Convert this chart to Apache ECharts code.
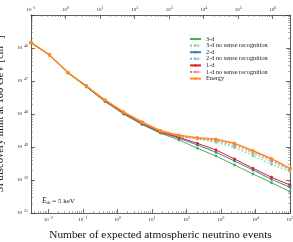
<!DOCTYPE html>
<html><head><meta charset="utf-8">
<script src="https://cdn.jsdelivr.net/npm/echarts@6/dist/echarts.min.js"></script>
<style>html,body{margin:0;padding:0;background:#fff}#c{width:293px;height:242px}</style>
</head><body><div id="c"></div>
<script>
// x: number of expected atmospheric neutrino events
const events = [3.16e-3, 1.09e-2, 3.73e-2, 0.128, 0.439, 1.51, 5.18, 17.8, 61.1, 209, 720, 2470, 8480, 29100, 1e5];
// y: SI discovery limit at 100 GeV [cm^-2]
const d3 = [1.45e-46, 6.14e-47, 1.75e-47, 6.58e-48, 2.39e-48, 1.0e-48, 4.81e-49, 2.60e-49, 1.63e-49, 9.14e-50, 5.34e-50, 2.85e-50, 1.52e-50, 8.28e-51, 4.42e-51];
const d3ns = [1.45e-46, 6.14e-47, 1.79e-47, 6.81e-48, 2.48e-48, 1.07e-48, 5.15e-49, 2.75e-49, 2.08e-49, 1.75e-49, 1.39e-49, 9.53e-50, 5.45e-50, 2.99e-50, 1.79e-50];
const d2 = [1.45e-46, 6.14e-47, 1.79e-47, 6.81e-48, 2.48e-48, 1.04e-48, 4.98e-49, 2.75e-49, 1.84e-49, 1.15e-49, 6.91e-50, 3.77e-50, 2.01e-50, 1.05e-50, 6.01e-51];
const d2ns = [1.45e-46, 6.14e-47, 1.79e-47, 7.05e-48, 2.57e-48, 1.11e-48, 5.34e-49, 2.85e-49, 2.11e-49, 1.81e-49, 1.52e-49, 1.09e-49, 6.44e-50, 3.59e-50, 2.01e-50];
const d1 = [1.45e-46, 6.14e-47, 1.79e-47, 6.81e-48, 2.48e-48, 1.07e-48, 5.15e-49, 2.85e-49, 1.97e-49, 1.29e-49, 8.11e-50, 4.33e-50, 2.26e-50, 1.21e-50, 7.05e-51];
const d1ns = [1.45e-46, 6.14e-47, 1.79e-47, 7.05e-48, 2.57e-48, 1.11e-48, 5.34e-49, 2.95e-49, 2.15e-49, 1.81e-49, 1.63e-49, 1.21e-49, 7.21e-50, 4.04e-50, 2.11e-50];
const energy = [1.45e-46, 6.14e-47, 1.79e-47, 7.05e-48, 2.66e-48, 1.15e-48, 5.73e-49, 3.12e-49, 2.26e-49, 1.91e-49, 1.71e-49, 1.29e-49, 7.73e-50, 4.42e-50, 2.26e-50];
const seriesNames = ['3-d', '3-d no sense recognition', '2-d', '2-d no sense recognition', '1-d', '1-d no sense recognition', 'Energy'];
// tick labels (decades)
const xTicks = [1e-2, 1e-1, 1, 1e1, 1e2, 1e3, 1e4, 1e5];
const massTicks = [1e-1, 1, 1e1, 1e2, 1e3, 1e4, 1e5, 1e6];
const yTicks = [1e-51, 1e-50, 1e-49, 1e-48, 1e-47, 1e-46];
const xRange = [3.1623e-3, 1e5];
const massRange = [0.1, 3162277.66];
const yRange = [1e-51, 1e-45];

// ECharts cannot hold 1e-51 in an axis extent: plot y in units of 1e-51 cm^-2
const Y_UNIT = 1e-51;
const Y_UNIT_EXP = -51;
const ys = v => v / Y_UNIT;

const lg = Math.log10;
function majorsExp(vals) { return vals.map(v => Math.round(lg(v))); }
function minorsExp(lo, hi) {
  const out = [];
  for (let e = Math.floor(lo); e <= Math.ceil(hi); e++) {
    for (let m = 2; m <= 9; m++) {
      const v = e + lg(m);
      if (v > lo + 1e-6 && v < hi - 1e-6) out.push(v);
    }
  }
  return out;
}
const FONT = 'Liberation Serif';
function expFmtOffset(off) {
  return function (v) {
    const e = Math.round(lg(v)) + off;
    return '10{s|' + (e < 0 ? '\u2212' + (-e) : e) + '}';
  };
}
const labRich = { s: { fontSize: 3.8, verticalAlign: 'top', padding: [0, 0, 3, 0], fontFamily: FONT, color: '#222' } };
const axLine = { show: true, onZero: false, lineStyle: { color: '#333', width: 0.8 } };
const noLine = { show: false, onZero: false };
const noSplit = { splitLine: { show: false }, minorTick: { show: false }, minorSplitLine: { show: false } };

function logAxis(opts) {
  return Object.assign({ type: 'log', logBase: 10, axisLine: axLine, axisTick: { show: false } }, noSplit, opts);
}
function tickAxis(pos, lo, hi, vals, len, line) {
  return Object.assign({
    type: 'value', position: pos, min: lo, max: hi,
    axisLine: line ? axLine : noLine,
    axisLabel: { show: false },
    axisTick: { show: true, inside: true, length: len, customValues: vals, lineStyle: { color: len > 3 ? '#333' : '#666', width: len > 3 ? 0.7 : 0.5 } }
  }, noSplit);
}
function label(vals, margin, off) {
  return { show: true, customValues: vals, formatter: expFmtOffset(off), fontSize: 5, fontFamily: FONT, color: '#222', margin: margin, rich: labRich, hideOverlap: false };
}

const xLo = lg(xRange[0]), xHi = lg(xRange[1]);
const mLo = lg(massRange[0]), mHi = lg(massRange[1]);
const yLo = lg(yRange[0]) - Y_UNIT_EXP, yHi = lg(yRange[1]) - Y_UNIT_EXP;

const xAxes = [
  logAxis({ position: 'bottom', min: xRange[0], max: xRange[1], axisLabel: label(xTicks, 3, 0),
    name: 'Number of expected atmospheric neutrino events', nameLocation: 'middle', nameGap: 17,
    nameTextStyle: { fontFamily: FONT, fontSize: 11.3, color: '#111' } }),
  tickAxis('bottom', xLo, xHi, majorsExp(xTicks), 4),
  tickAxis('bottom', xLo, xHi, minorsExp(xLo, xHi), 2),
  logAxis({ position: 'top', min: massRange[0], max: massRange[1], axisLabel: label(massTicks, 2, 0),
    name: 'Detector mass [ton]', nameLocation: 'middle', nameGap: 10,
    nameTextStyle: { fontFamily: FONT, fontSize: 10.8, color: '#111' } }),
  tickAxis('top', mLo, mHi, majorsExp(massTicks), 4),
  tickAxis('top', mLo, mHi, minorsExp(mLo, mHi), 2)
];
const yTicksU = yTicks.map(ys);
const yAxes = [
  logAxis({ position: 'left', min: ys(yRange[0]), max: ys(yRange[1]), axisLabel: label(yTicksU, 3, Y_UNIT_EXP),
    name: 'SI discovery limit at 100 GeV [cm{s|\u22122}]', nameLocation: 'middle', nameGap: 19, nameRotate: 90,
    nameTextStyle: { fontFamily: FONT, fontSize: 10.6, color: '#111', rich: { s: { fontSize: 6.5, verticalAlign: 'top', padding: [0, 0, 5, 0], fontFamily: FONT, color: '#111' } } } }),
  tickAxis('left', yLo, yHi, [0, 1, 2, 3, 4, 5, 6], 4),
  tickAxis('left', yLo, yHi, minorsExp(yLo, yHi), 2),
  tickAxis('right', yLo, yHi, [0, 1, 2, 3, 4, 5, 6], 4, true),
  tickAxis('right', yLo, yHi, minorsExp(yLo, yHi), 2)
];

const styles = [
  { c: '#4daf4a', dash: 'solid' },
  { c: '#86cc83', dash: [2, 1.6] },
  { c: '#377eb8', dash: 'solid' },
  { c: '#82b2da', dash: [2, 1.6] },
  { c: '#e41a1c', dash: 'solid' },
  { c: '#ef7a7b', dash: [2, 1.6] },
  { c: '#ff8c1a', dash: 'solid' }
];
const allY = [d3, d3ns, d2, d2ns, d1, d1ns, energy];
const series = allY.map((arr, i) => ({
  name: seriesNames[i], type: 'line', xAxisIndex: 0, yAxisIndex: 0,
  data: events.map((x, j) => [x, ys(arr[j])]),
  symbol: 'circle', symbolSize: i === 6 ? 3.6 : 2.8, showSymbol: true,
  lineStyle: { color: styles[i].c, width: i === 6 ? 1.5 : 1, type: styles[i].dash },
  itemStyle: { color: styles[i].c },
  emphasis: { disabled: true }, animation: false, z: i === 6 ? 5 : 2
}));

const chart = echarts.init(document.getElementById('c'), null, { renderer: 'canvas' });
chart.setOption({
  animation: false,
  backgroundColor: '#fff',
  grid: { left: 31, right: 3, top: 15, bottom: 29, containLabel: false, outerBoundsMode: 'none' },
  xAxis: xAxes, yAxis: yAxes,
  legend: {
    data: seriesNames, orient: 'vertical', left: 184, top: 31,
    itemWidth: 11, itemHeight: 3, itemGap: 0.6,
    textStyle: { fontFamily: FONT, fontSize: 6.3, color: '#222', lineHeight: 5.6 },
    selectedMode: false
  },
  graphic: [{
    type: 'text', left: 42, top: 197,
    style: { text: '{i|E}{b|th} = 5 keV', fontFamily: FONT, fontSize: 7, fill: '#222',
      rich: { i: { fontStyle: 'italic', fontSize: 7.5, fontFamily: FONT }, b: { fontSize: 5, verticalAlign: 'bottom', padding: [3, 0, 0, 0], fontFamily: FONT } } }
  }],
  series: series
});
</script></body></html>
